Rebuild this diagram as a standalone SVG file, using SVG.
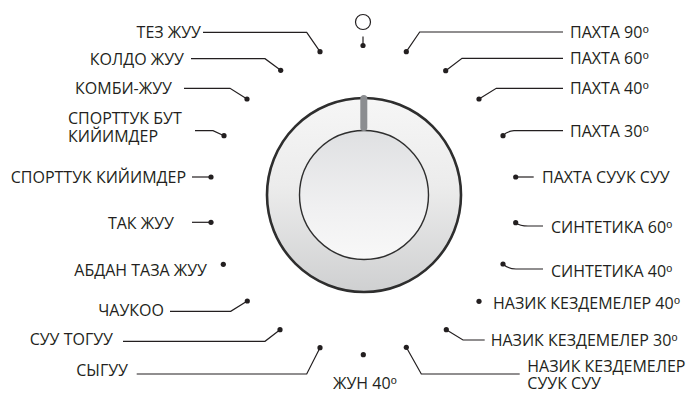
<svg xmlns="http://www.w3.org/2000/svg" width="686" height="394" viewBox="0 0 686 394">
<defs>
<style>
text{font-family:"Open Sans","Liberation Sans",sans-serif;font-size:16px;fill:#231f20}
.e{text-anchor:end}
.sup{font-family:"DejaVu Sans",sans-serif;font-size:16px}
.ln{fill:none;stroke:#231f20;stroke-width:1.2}
.dot{fill:#231f20}
</style>
<linearGradient id="gOuter" x1="0" y1="0" x2="0" y2="1">
<stop offset="0" stop-color="#f6f6f6"/>
<stop offset="0.45" stop-color="#ececec"/>
<stop offset="1" stop-color="#cfd0d1"/>
</linearGradient>
<linearGradient id="gInner" x1="0" y1="0" x2="0" y2="1">
<stop offset="0" stop-color="#dfe0e2"/>
<stop offset="0.6" stop-color="#f0f0f1"/>
<stop offset="1" stop-color="#f8f8f8"/>
</linearGradient>
</defs>
<rect width="686" height="394" fill="#ffffff"/>

<g id="dial">
<circle cx="364" cy="195" r="97" fill="url(#gOuter)" stroke="#2e2e2e" stroke-width="2.6"/>
<circle cx="364" cy="195" r="64.5" fill="url(#gInner)" stroke="#2e2e2e" stroke-width="1.4"/>
<rect x="360.3" y="95" width="7" height="36" rx="3.5" fill="#8b8d90"/>
</g>

<g id="off">
<circle cx="363" cy="22" r="7.5" fill="none" stroke="#231f20" stroke-width="1.2"/>
<line x1="363" y1="36.5" x2="363" y2="45" class="ln"/>
<circle cx="363" cy="45.5" r="2.6" class="dot"/>
</g>

<g id="connectors">
<path class="ln" d="M203 32.3H306.7L320 51.7"/>
<path class="ln" d="M191 58.7H265L280.7 70.3"/>
<path class="ln" d="M184 88.3H230L247 99"/>
<path class="ln" d="M195 130.7H213L224 135.7"/>
<path class="ln" d="M192 177H211"/>
<path class="ln" d="M192 222.3H211"/>
<path class="ln" d="M170 311.3H230.7L247.3 301"/>
<path class="ln" d="M123 341.3H265L280 329.7"/>
<path class="ln" d="M136.7 374H306.7L320 347.7"/>
<path class="ln" d="M406.3 51.7L419.7 32H563"/>
<path class="ln" d="M445.7 70.7L462 58.3H563"/>
<path class="ln" d="M479 99L496.3 88.3H563"/>
<path class="ln" d="M503 135.7Q507 131 514 130.7H563"/>
<path class="ln" d="M515.7 177H533.7"/>
<path class="ln" d="M515.7 222.7Q520 226 528 226H543"/>
<path class="ln" d="M503 264Q508 269 516 269H543"/>
<path class="ln" d="M446.3 329.7L463 340H484.7"/>
<path class="ln" d="M406.3 347.3L421.3 374H519.7"/>
</g>

<g id="dots">
<circle cx="320" cy="51.7" r="2.6" class="dot"/>
<circle cx="280.7" cy="70.3" r="2.6" class="dot"/>
<circle cx="247" cy="99" r="2.6" class="dot"/>
<circle cx="224" cy="135.7" r="2.6" class="dot"/>
<circle cx="211" cy="177" r="2.6" class="dot"/>
<circle cx="211" cy="222.3" r="2.6" class="dot"/>
<circle cx="223.3" cy="264.3" r="2.6" class="dot"/>
<circle cx="247.3" cy="301" r="2.6" class="dot"/>
<circle cx="280" cy="329.7" r="2.6" class="dot"/>
<circle cx="320" cy="347.7" r="2.6" class="dot"/>
<circle cx="363.3" cy="354.7" r="2.6" class="dot"/>
<circle cx="406.3" cy="51.7" r="2.6" class="dot"/>
<circle cx="445.7" cy="70.7" r="2.6" class="dot"/>
<circle cx="479" cy="99" r="2.6" class="dot"/>
<circle cx="503" cy="135.7" r="2.6" class="dot"/>
<circle cx="515.7" cy="177" r="2.6" class="dot"/>
<circle cx="515.7" cy="222.7" r="2.6" class="dot"/>
<circle cx="503" cy="264" r="2.6" class="dot"/>
<circle cx="479" cy="301.3" r="2.6" class="dot"/>
<circle cx="446.3" cy="329.7" r="2.6" class="dot"/>
<circle cx="406.3" cy="347.3" r="2.6" class="dot"/>
</g>

<g id="labels-left">
<text id="t-tez" class="e" x="201" y="38">ТЕЗ ЖУУ</text>
<text id="t-koldo" class="e" x="184" y="64.5">КОЛДО ЖУУ</text>
<text id="t-kombi" class="e" x="172" y="94">КОМБИ-ЖУУ</text>
<text id="t-sportbut1" x="68" y="124">СПОРТТУК БУТ</text>
<text id="t-sportbut2" x="68" y="141.7">КИЙИМДЕР</text>
<text id="t-sport" class="e" x="186" y="183">СПОРТТУК КИЙИМДЕР</text>
<text id="t-tak" class="e" x="174" y="229">ТАК ЖУУ</text>
<text id="t-abdan" class="e" x="207" y="276">АБДАН ТАЗА ЖУУ</text>
<text id="t-chaukoo" class="e" x="164" y="316">ЧАУКОО</text>
<text id="t-suu" class="e" x="113" y="345">СУУ ТОГУУ</text>
<text id="t-sygu" class="e" x="128" y="376">СЫГУУ</text>
<text id="t-jun" x="333" y="389">ЖУН 40<tspan class="sup">⁰</tspan></text>
</g>

<g id="labels-right">
<text id="t-p90" x="570" y="37.5">ПАХТА 90<tspan class="sup">⁰</tspan></text>
<text id="t-p60" x="570" y="64">ПАХТА 60<tspan class="sup">⁰</tspan></text>
<text id="t-p40" x="570" y="93.5">ПАХТА 40<tspan class="sup">⁰</tspan></text>
<text id="t-p30" x="570" y="136.5">ПАХТА 30<tspan class="sup">⁰</tspan></text>
<text id="t-pcold" x="542" y="183">ПАХТА СУУК СУУ</text>
<text id="t-s60" x="551" y="232.5">СИНТЕТИКА 60<tspan class="sup">⁰</tspan></text>
<text id="t-s40" x="551" y="276.5">СИНТЕТИКА 40<tspan class="sup">⁰</tspan></text>
<text id="t-n40" x="493" y="309">НАЗИК КЕЗДЕМЕЛЕР 40<tspan class="sup">⁰</tspan></text>
<text id="t-n30" x="490.7" y="346">НАЗИК КЕЗДЕМЕЛЕР 30<tspan class="sup">⁰</tspan></text>
<text id="t-ncold1" x="527.3" y="372">НАЗИК КЕЗДЕМЕЛЕР</text>
<text id="t-ncold2" x="527.3" y="389">СУУК СУУ</text>
</g>
</svg>
